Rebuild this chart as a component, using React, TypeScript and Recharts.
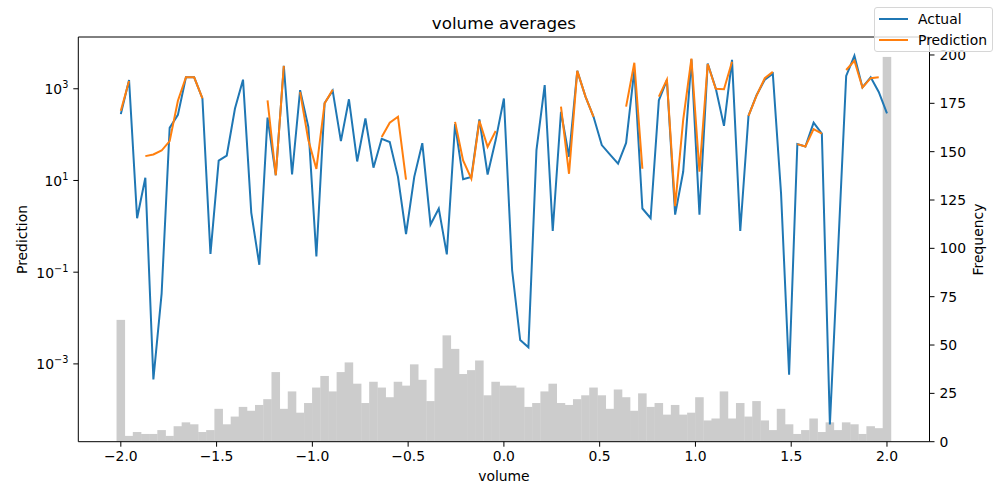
import {
  ComposedChart,
  Bar,
  Line,
  XAxis,
  YAxis,
  Legend,
  ReferenceLine,
} from 'recharts'

// bin centres of the volume histogram
const VOLUME = [
  -2.0, -1.957, -1.915, -1.872, -1.83, -1.787, -1.745, -1.702, -1.66, -1.617,
  -1.574, -1.532, -1.489, -1.447, -1.404, -1.362, -1.319, -1.277, -1.234, -1.191,
  -1.149, -1.106, -1.064, -1.021, -0.979, -0.936, -0.894, -0.851, -0.809, -0.766,
  -0.723, -0.681, -0.638, -0.596, -0.553, -0.511, -0.468, -0.426, -0.383, -0.34,
  -0.298, -0.255, -0.213, -0.17, -0.128, -0.085, -0.043, 0.0, 0.043, 0.085,
  0.128, 0.17, 0.213, 0.255, 0.298, 0.34, 0.383, 0.426, 0.468, 0.511,
  0.553, 0.596, 0.638, 0.681, 0.723, 0.766, 0.809, 0.851, 0.894, 0.936,
  0.979, 1.021, 1.064, 1.106, 1.149, 1.191, 1.234, 1.277, 1.319, 1.362,
  1.404, 1.447, 1.489, 1.532, 1.574, 1.617, 1.66, 1.702, 1.745, 1.787,
  1.83, 1.872, 1.915, 1.957, 2.0,
]

const ACTUAL = [
  280, 1550, 1.5, 11.5, 0.00046, 0.034, 140, 270, 1780, 1780,
  615, 0.25, 27, 35, 370, 1580, 2.0, 0.145, 235, 13,
  3160, 13.5, 930, 148, 0.22, 490, 910, 72, 590, 26,
  225, 19, 81, 69, 12, 0.68, 12, 65, 1.1, 2.45,
  0.245, 170, 10.7, 12, 214, 13.5, 76, 615, 0.11, 0.0033,
  0.0023, 46, 1200, 0.79, 316, 33, 2450, 676, 245, 59,
  37, 23.4, 66, 2570, 2.45, 1.5, 560, 1550, 1.8, 15.5,
  4370, 1.8, 3550, 1020, 155, 4270, 0.79, 257, 725, 1580,
  2140, 5.2, 0.00058, 62, 55, 182, 105, 0.000048, 0.32, 1900,
  5250, 1070, 1780, 850, 290,
]

const PREDICTION = [
  330, 1480, null, 34, 37, 45, 72, 550, 1780, 1780,
  615, null, null, null, null, null, null, null, 560, 13,
  3160, null, 850, 76, 17.8, 480, 955, null, null, null,
  null, null, 89, 182, 245, 10.5, null, null, null, null,
  null, 190, 27.5, 11, 200, 54, 120, null, null, null,
  null, null, null, null, 407, 14, 2450, 676, 245, null,
  null, null, 407, 3700, 18, null, 676, 1580, 2.75, 209,
  4570, 15.5, 3470, 1000, 977, 3890, null, 257, 708, 1700,
  2340, null, null, 62, 55, 132, 105, null, null, 2570,
  4070, 1070, 1700, 1780, null,
]

const FREQUENCY = [
  63, 3, 5, 4, 4, 6, 3, 8, 10, 9,
  5, 6, 17, 9, 13, 18, 16, 19, 22, 36,
  17, 26, 15, 20, 28, 34, 26, 36, 41, 30,
  20, 31, 28, 23, 31, 29, 40, 32, 21, 38,
  55, 48, 35, 37, 42, 24, 31, 29, 29, 28,
  18, 20, 26, 30, 20, 19, 22, 24, 28, 24,
  17, 27, 23, 16, 25, 18, 20, 14, 19, 14,
  15, 23, 11, 12, 26, 12, 20, 13, 21, 11,
  6, 17, 9, 4, 6, 12, 5, 10, 6, 10,
  9, 4, 8, 7, 199,
]

const X_TICKS = [-2, -1.5, -1, -0.5, 0, 0.5, 1, 1.5, 2]
const LOG_TICKS = [1e-3, 1e-1, 1e1, 1e3]
const FREQ_TICKS = [0, 25, 50, 75, 100, 125, 150, 175, 200]

const X_DOMAIN = [-2.222, 2.222]
const LOG_DOMAIN = [2.01e-5, 13460]
const FREQ_DOMAIN = [0, 209.3]

const FONT = 'DejaVu Sans, sans-serif'
const BLUE = '#1f77b4'
const ORANGE = '#ff7f0e'
const BIN_PX = 8.15 // width of one histogram bin on screen

const data = VOLUME.map((v, i) => ({
  volume: v,
  actual: ACTUAL[i],
  prediction: PREDICTION[i],
  frequency: FREQUENCY[i],
}))

const fmtX = (v: number) => (v < 0 ? '\u2212' + Math.abs(v).toFixed(1) : v.toFixed(1))

function LogTick(props: any) {
  const { x, y, payload } = props
  const exp = Math.round(Math.log10(payload.value))
  const expStr = exp < 0 ? '\u2212' + Math.abs(exp) : String(exp)
  return (
    <text x={x} y={y + 5.5} textAnchor="end" fill="#000" fontFamily={FONT} fontSize={13.9}>
      <tspan>10</tspan>
      <tspan dy={-6} fontSize={9.7}>{expStr}</tspan>
    </text>
  )
}

// histogram bars touch each other, centred on their bin
function HistBar(props: any) {
  const { x, y, width, height } = props
  if (!height || height <= 0) return null
  const cx = x + width / 2
  return <rect x={cx - BIN_PX / 2 - 0.2} y={y} width={BIN_PX + 0.4} height={height} fill="#cccccc" />
}

function LegendBox(props: any) {
  const items = (props.payload || []).filter((p: any) => p.type !== 'none')
  return (
    <div
      style={{
        position: 'relative',
        width: 119,
        height: 45,
        boxSizing: 'border-box',
        background: 'rgba(255,255,255,0.8)',
        border: '1px solid #d6d6d6',
        borderRadius: 3,
        fontFamily: FONT,
        fontSize: 13.9,
        color: '#000',
      }}
    >
      {items.map((it: any, i: number) => (
        <div
          key={it.value}
          style={{ position: 'absolute', left: 0, top: 3 + i * 21, height: 16, display: 'flex', alignItems: 'center' }}
        >
          <div style={{ marginLeft: 4, width: 29, height: 2, background: it.color }} />
          <span style={{ marginLeft: 10, whiteSpace: 'nowrap', lineHeight: '16px' }}>{it.value}</span>
        </div>
      ))}
    </div>
  )
}

export default function App() {
  return (
    <div style={{ position: 'absolute', left: 0, top: 0, width: 1000, height: 500, background: '#fff' }}>
      <ComposedChart
        width={1000}
        height={500}
        data={data}
        margin={{ top: 37, right: 0, bottom: 0, left: 0 }}
      >
        <XAxis
          dataKey="volume"
          type="number"
          domain={X_DOMAIN}
          ticks={X_TICKS}
          allowDataOverflow
          height={58.3}
          tickSize={5}
          tickMargin={4}
          tickFormatter={fmtX}
          stroke="#000"
          tick={{ fill: '#000', fontFamily: FONT, fontSize: 13.9 }}
        />
        <YAxis
          yAxisId="left"
          scale="log"
          domain={LOG_DOMAIN}
          ticks={LOG_TICKS}
          allowDataOverflow
          width={78.3}
          tickSize={5}
          tickMargin={5}
          stroke="#000"
          tick={<LogTick />}
        />
        <YAxis
          yAxisId="right"
          orientation="right"
          domain={FREQ_DOMAIN}
          ticks={FREQ_TICKS}
          allowDataOverflow
          width={70.5}
          tickSize={5}
          tickMargin={5}
          stroke="#000"
          tick={{ fill: '#000', fontFamily: FONT, fontSize: 13.9 }}
        />
        <ReferenceLine yAxisId="right" y={FREQ_DOMAIN[1]} stroke="#000" ifOverflow="visible" />

        <Bar
          yAxisId="right"
          dataKey="frequency"
          fill="#cccccc"
          barSize={6}
          shape={<HistBar />}
          legendType="none"
          isAnimationActive={false}
        />
        <Line
          yAxisId="left"
          dataKey="actual"
          name="Actual"
          stroke={BLUE}
          strokeWidth={2}
          dot={false}
          activeDot={false}
          type="linear"
          isAnimationActive={false}
        />
        <Line
          yAxisId="left"
          dataKey="prediction"
          name="Prediction"
          stroke={ORANGE}
          strokeWidth={2}
          dot={false}
          activeDot={false}
          type="linear"
          isAnimationActive={false}
        />

        <Legend
          layout="vertical"
          align="center"
          verticalAlign="middle"
          content={<LegendBox />}
          wrapperStyle={{ left: 874, top: 7, width: 119, height: 45 }}
        />

        <text x={503.9} y={28.5} textAnchor="middle" fontFamily={FONT} fontSize={16.7} fill="#000">
          volume averages
        </text>
        <text x={503.9} y={481} textAnchor="middle" fontFamily={FONT} fontSize={13.9} fill="#000">
          volume
        </text>
        <text
          x={26.7}
          y={239.5}
          textAnchor="middle"
          fontFamily={FONT}
          fontSize={13.9}
          fill="#000"
          transform="rotate(-90 26.7 239.5)"
        >
          Prediction
        </text>
        <text
          x={982.5}
          y={239.5}
          textAnchor="middle"
          fontFamily={FONT}
          fontSize={13.9}
          fill="#000"
          transform="rotate(-90 982.5 239.5)"
        >
          Frequency
        </text>
      </ComposedChart>
    </div>
  )
}
